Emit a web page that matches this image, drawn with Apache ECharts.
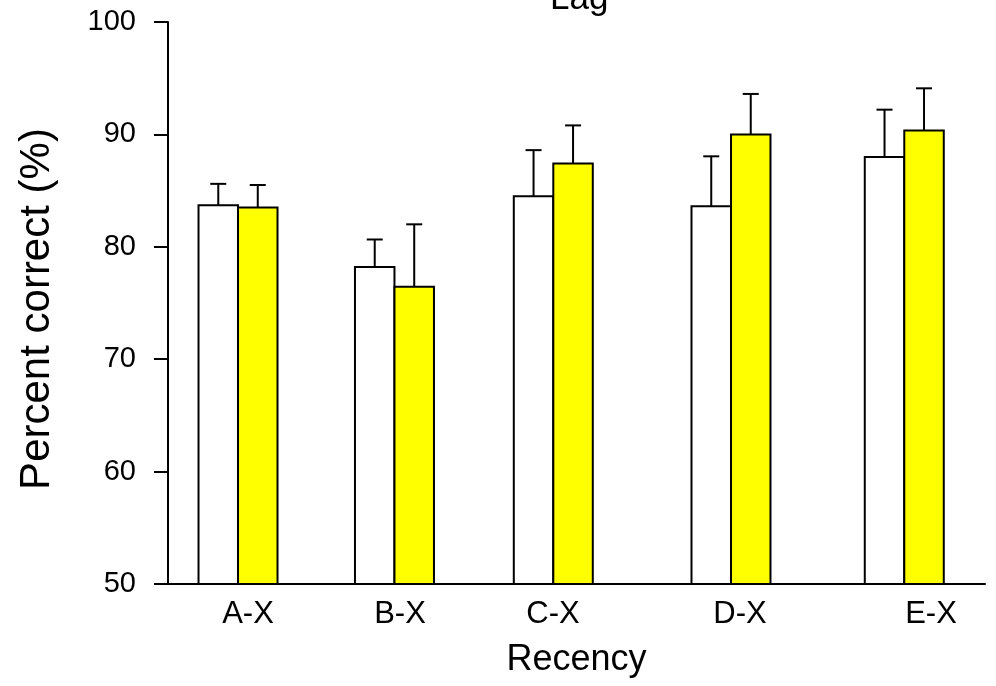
<!DOCTYPE html>
<html>
<head>
<meta charset="utf-8">
<script src="https://cdn.jsdelivr.net/npm/echarts@6/dist/echarts.min.js"></script>
<style>html,body{margin:0;padding:0;background:#fff}#c{width:996px;height:686px}</style>
</head>
<body>
<div id="c"></div>
<script>
// ---- data ----
const categories = ['A-X', 'B-X', 'C-X', 'D-X', 'E-X'];
const whiteValues = [83.7, 78.2, 84.5, 83.6, 88.0];
const whiteErrors = [1.9, 2.45, 4.1, 4.45, 4.2];
const yellowValues = [83.5, 76.45, 87.4, 90.0, 90.35];
const yellowErrors = [2.0, 5.55, 3.4, 3.6, 3.75];
const yTicks = [50, 60, 70, 80, 90, 100];

// ---- layout (axis units on the x value axis, 0..10) ----
const groupPos = [0.857, 2.772, 4.716, 6.891, 9.012];
const labelPos = [0.979, 2.840, 4.712, 7.001, 9.339];
const BAR_PX = 39.5;
const CAP_PX = 16;
const FONT = "'Liberation Sans', Arial, Helvetica, sans-serif";

function makeRender(side, fill) {
  return function (params, api) {
    const x = api.value(0), v = api.value(1), e = api.value(2);
    const top = api.coord([x, v]);
    const base = api.coord([x, 50]);
    const cx = top[0];
    const left = side === 0 ? cx - BAR_PX : cx;
    const barCx = left + BAR_PX / 2;
    const cap = api.coord([x, v + e]);
    return {
      type: 'group',
      children: [
        { type: 'rect', shape: { x: left, y: top[1], width: BAR_PX, height: base[1] - top[1] },
          style: { fill: fill, stroke: '#000', lineWidth: 2 } },
        { type: 'line', shape: { x1: barCx, y1: top[1], x2: barCx, y2: cap[1] },
          style: { stroke: '#000', lineWidth: 2 } },
        { type: 'line', shape: { x1: barCx - CAP_PX / 2, y1: cap[1], x2: barCx + CAP_PX / 2, y2: cap[1] },
          style: { stroke: '#000', lineWidth: 2 } }
      ]
    };
  };
}

const chart = echarts.init(document.getElementById('c'), null, { renderer: 'canvas' });
chart.setOption({
  backgroundColor: '#fff',
  animation: false,
  textStyle: { fontFamily: FONT },
  grid: { left: 168, right: 11, top: 22, bottom: 102, outerBoundsMode: 'none', containLabel: false },
  xAxis: {
    type: 'value', min: 0, max: 10,
    splitLine: { show: false },
    axisLine: { show: true, onZero: false, lineStyle: { color: '#000', width: 2 } },
    axisTick: { show: false },
    axisLabel: {
      customValues: labelPos,
      fontSize: 31, color: '#000', fontFamily: FONT, margin: 15,
      formatter: function (v) {
        const i = labelPos.findIndex(p => Math.abs(p - v) < 1e-6);
        return i >= 0 ? categories[i] : '';
      }
    },
    name: 'Recency', nameLocation: 'middle', nameGap: 58,
    nameTextStyle: { fontSize: 36, color: '#000', fontFamily: FONT }
  },
  yAxis: {
    type: 'value', min: 50, max: 100, interval: 10,
    splitLine: { show: false },
    axisLine: { show: true, lineStyle: { color: '#000', width: 2 } },
    axisTick: { show: true, inside: false, length: 14, lineStyle: { color: '#000', width: 2 } },
    axisLabel: { fontSize: 29, color: '#000', fontFamily: FONT, margin: 32,
      formatter: v => yTicks.includes(v) ? String(v) : '' },
    name: 'Percent correct (%)', nameLocation: 'middle', nameGap: 110,
    nameTextStyle: { fontSize: 42, color: '#000', fontFamily: FONT, padding: [0, 12, 0, 0] }
  },
  graphic: [
    { type: 'text', left: 579 - 29, top: -18, style: { text: 'Lag', fontSize: 35, fontFamily: FONT, fill: '#000' } }
  ],
  series: [
    { type: 'custom', name: 'White', renderItem: makeRender(0, '#ffffff'),
      encode: { x: 0, y: 1 },
      data: groupPos.map((p, i) => [p, whiteValues[i], whiteErrors[i]]) },
    { type: 'custom', name: 'Yellow', renderItem: makeRender(1, '#ffff00'),
      encode: { x: 0, y: 1 },
      data: groupPos.map((p, i) => [p, yellowValues[i], yellowErrors[i]]) }
  ]
});
</script>
</body>
</html>
